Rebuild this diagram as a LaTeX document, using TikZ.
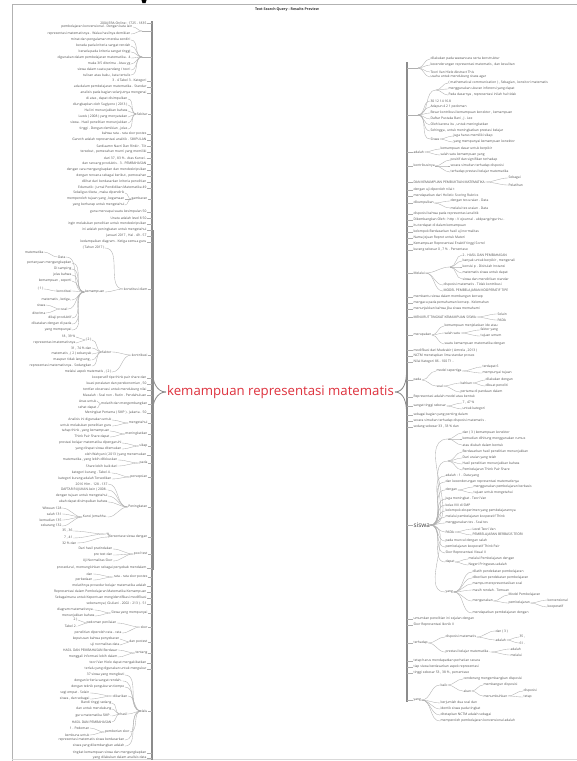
\documentclass[tikz,border=0pt]{standalone}
\usepackage{fontspec}
\setmainfont{Open Sans}
\definecolor{cred}{RGB}{222,50,62}
\definecolor{ctxt}{RGB}{80,80,80}
\definecolor{ccon}{RGB}{175,175,175}
\definecolor{ctrk}{RGB}{140,140,140}
\tikzset{
  lt/.style={font=\fontsize{3.3}{3.6}\selectfont, text=ctxt, inner sep=0.4pt},
  con/.style={draw=ccon, line width=0.35pt},
  trk/.style={draw=ctrk, line width=1.2pt},
}
% left level-1 node
\newcommand\MLT[4]{\node[lt,anchor=east] (#1) at (#2,#3) {#4};
  \coordinate (#1t) at (152,#3); \draw[con] (#1.east) -- (#1t);}
% left child
\newcommand\MLK[5]{\node[lt,anchor=east] (#1) at (#3,#4) {#5};
  \draw[con] (#1.east) to[out=0,in=180] (#2);}
% left unlabeled group
\newcommand\MLG[3]{\coordinate (#1) at (#2,#3); \coordinate (#1t) at (152,#3);
  \draw[con] (#1) -- (#1t);}
% right level-1 node
\newcommand\MRT[4]{\node[lt,anchor=west] (#1) at (#2,#3) {#4};
  \coordinate (#1t) at (407,#3); \draw[con] (#1t) -- (#1.west);}
% right child
\newcommand\MRK[5]{\node[lt,anchor=west] (#1) at (#3,#4) {#5};
  \draw[con] (#2) to[out=0,in=180] (#1.west);}
% right unlabeled group
\newcommand\MRG[3]{\coordinate (#1) at (#2,#3); \coordinate (#1t) at (407,#3);
  \draw[con] (#1t) -- (#1);}
\begin{document}
\begin{tikzpicture}[x=1pt,y=-1pt]
\useasboundingbox (0,0) rectangle (577,761);
\fill[white] (0,0) rectangle (577,761);
% frame
\coordinate (fa) at (12,761); \coordinate (fb) at (12,4); \coordinate (fc) at (577,4);
\coordinate (fd) at (12,759.5); \coordinate (fe) at (577,759.5);
\draw[black!30, line width=0.6pt] (fa) -- (fb) -- (fc);
\draw[black!15, line width=0.5pt] (fd) -- (fe);
\fill[black] (141.5,0) -- (146.5,0) -- (145.5,3.2) -- (142.5,3.2) -- cycle;
\node[font=\bfseries\fontsize{3.6}{4}\selectfont, text=black!80] (title) at (287,9.5) {Text Search Query - Results Preview};

% centre
\node[font=\fontsize{13.2}{15}\selectfont, text=cred, inner sep=1pt] (center) at (280.5,392) {kemampuan representasi matematis};

% trunks
\coordinate (LTa) at (152,21); \coordinate (LTb) at (152,760);
\coordinate (LTc) at (152.5,230); \coordinate (LTd) at (152.5,570);
\coordinate (LTu) at (152.5,372); \coordinate (LTl) at (152.5,412);
\draw[trk] (LTa) -- (LTb);
\draw[trk, line width=2.6pt] (LTc) -- (LTd);
\draw[trk, line width=0.8pt] (center.west) to[out=180,in=-90] (LTu);
\draw[trk, line width=0.8pt] (center.west) to[out=180,in=90] (LTl);
\coordinate (RTa) at (407,62); \coordinate (RTb) at (407,702);
\coordinate (RTc) at (407,200); \coordinate (RTd) at (407,600);
\coordinate (RTu) at (406.5,372); \coordinate (RTl) at (406.5,412);
\draw[trk] (RTa) -- (RTb);
\draw[trk, line width=2.4pt] (RTc) -- (RTd);
\draw[trk, line width=0.8pt] (center.east) to[out=0,in=-90] (RTu);
\draw[trk, line width=0.8pt] (center.east) to[out=0,in=90] (RTl);

% ================= LEFT =================
\MLT{a1}{147}{23}{2004 ERA Online : 1725 - 1835}
\MLG{g1}{142}{31}
\MLK{a2}{g1}{133}{27}{pembelajaran konvensional . Dengan kata lain}
\MLK{a3}{g1}{131}{34}{representasi matematisnya . Walau hasilnya demikian}
\MLG{g2}{142}{57}
\MLK{a4}{g2}{131}{40}{minat dan pengalaman mereka sendiri}
\MLK{a5}{g2}{131}{46}{berada pada kriteria sangat rendah}
\MLK{a6}{g2}{131}{52}{berada pada kriteria sangat tinggi}
\MLK{a7}{g2}{131}{58}{digunakan dalam pembelajaran matematika . 4}
\MLK{a8}{g2}{131}{64}{maka 3/5 diterima . Atau yg}
\MLK{a9}{g2}{131}{70}{siswa dalam suatu pandang / teori}
\MLK{a10}{g2}{131}{75}{tulisan atau baku , kata tertulis}
\MLT{a11}{147}{81}{3 . 4 Tabel 3 . Kategori}
\MLT{a12}{147}{87}{ada dalam pembelajaran matematika . Standar}
\MLT{a13}{147}{93}{analisis pada bagian selanjutnya mengenai}
\MLT{a14}{148}{114}{Sekitar}
\MLK{a15}{a14.west}{128}{99}{di atas , dapat disimpulkan}
\MLK{a16}{a14.west}{128}{105}{diungkapkan oleh Sugiyono ( 2013 )}
\MLK{a17}{a14.west}{128}{111}{Hal ini menunjukkan bahwa}
\MLK{a18}{a14.west}{128}{117}{Luwis ( 2008 ) yang menyatakan}
\MLK{a19}{a14.west}{128}{123}{siswa . Hasil penelitian menunjukkan}
\MLK{a20}{a14.west}{128}{129}{tinggi . Dengan demikian , jelas}
\MLT{a21}{147}{134}{bahwa rata - rata skor postes}
\MLT{a22}{147}{140}{Ganoth adalah representasi analitik . SIMPULAN}
\MLT{a23}{147}{146}{Sardiaamn Navri Dan Rinkir . Tiit}
\MLT{a24}{147}{152}{tersebut , pemecahan murni yang memiliki}
\MLT{a25}{147}{158}{dari 37 , 83 \% . Atas Kurvei .}
\MLT{a26}{147}{164}{dan rancang produktis . 3 . PEMBAHASAN}
\MLT{a27}{147}{170}{dengan cara mengungkapkan dan mendeskripsikan}
\MLT{a28}{147}{176}{dengan rencana sebagai berikut , pemecahan}
\MLT{a29}{147}{182}{dilihat dari berdasarkan kriteria penelitian}
\MLT{a30}{147}{188}{Edumatik : Jurnal Pendidikan Matematika 49}
\MLT{a31}{148}{199}{gambaran}
\MLK{a32}{a31.west}{125}{193}{Sekaligus tiketa , maka dipendirik}
\MLK{a33}{a31.west}{125}{199}{memperoleh tujuan yang , kegamaan}
\MLK{a34}{a31.west}{125}{205}{yang berharap untuk mengetahui}
\MLT{a35}{147}{212}{guna mencapai suatu kesimpulan 50}
\MLT{a36}{147}{218}{Unatu adalah level 8 50}
\MLT{a37}{147}{224}{ingin melakukan penelitian untuk mendeskripsikan}
\MLT{a38}{147}{230}{ini adalah peningkatan untuk mengetahui}
\MLT{a39}{147}{236}{Januari 2017 , Hal . 49 - 57}
\MLT{a40}{147}{242}{kedampaikan diagram . Ketiga semua guru}
\MLT{a41}{148}{289}{konstitusi diam}
\MLK{a42}{a41.west}{105}{248}{( Tahun 2017 )}
\MLK{a43}{a41.west}{105}{292}{kemampuan}
\MLK{a44}{a43.west}{66}{257}{Data}
\MLK{a45}{a44.west}{44}{252}{matematika}
\MLK{a47}{a43.west}{72}{263}{pertanyaan mengungkapkan}
\MLK{a48}{a43.west}{72}{269}{Di samping}
\MLK{a49}{a43.west}{72}{275}{jelas bahwa}
\MLK{a50}{a43.west}{72}{281}{kemampuan , seperti}
\MLK{a51}{a43.west}{72}{291}{konstitusi}
\MLK{a52}{a51.west}{44}{289}{( 1 )}
\MLK{a53}{a43.west}{72}{300}{matematis , ketiga ,}
\MLK{a54}{a43.west}{68}{309}{soal}
\MLK{a55}{a54.west}{46}{305}{siswa}
\MLK{a56}{a54.west}{46}{313}{diterima}
\MLK{a57}{a43.west}{72}{318}{dikaji produktif}
\MLK{a58}{a43.west}{72}{324}{dikatakan dengan di pada}
\MLK{a59}{a43.west}{72}{330}{yang mempunyai}
\MLT{a60}{148}{355}{kontribusi}
\MLK{a61}{a60.west}{112}{352}{faktor}
\MLK{a62}{a61.west}{92}{340}{( 2 )}
\MLK{a63}{a62.west}{76}{337}{18 , 39 \%}
\MLK{a64}{a62.west}{76}{343}{representasi matematisnya}
\MLK{a65}{a61.west}{92}{348}{31 , 74 \% dan}
\MLK{a66}{a61.west}{92}{354}{matematis , ( 2 ) sebanyak}
\MLK{a67}{a61.west}{92}{360}{maupun tidak langsung ,}
\MLK{a68}{a61.west}{92}{366}{representasi matematisnya . Sedangkan}
\MLK{a69}{a60.west}{112}{372}{melalui aspek matematis , ( 2 )}
\MLT{a70}{147}{378}{kooperatif tipe think pair share dan}
\MLT{a71}{147}{384}{kuasi peralatan dan perekonomian , 50}
\MLT{a72}{147}{390}{tentfan observasi untuk mendukung nilai}
\MLT{a73}{147}{395}{Masalah : Soal non - Rutin . Pendahuluan}
\MLT{a74}{148}{404}{melatih dan mengembangkan}
\MLK{a75}{a74.west}{97}{401}{Anas untuk}
\MLK{a76}{a74.west}{97}{408}{sehat dapat}
\MLT{a77}{147}{413}{Meningkat Pertama ( SMP ) . Jakarta . 50}
\MLT{a78}{148}{423}{mengetahui}
\MLK{a79}{a78.west}{112}{420}{Analisis ini digunakan untuk}
\MLK{a80}{a78.west}{112}{426}{untuk melakukan penelitian guru}
\MLT{a81}{148}{434}{meningkatkan}
\MLK{a82}{a81.west}{110}{431}{tahap think , yang kemampuan}
\MLK{a83}{a81.west}{110}{437}{Think Pair Share dapat}
\MLT{a84}{148}{446}{sikap}
\MLK{a85}{a84.west}{122}{443}{prestasi belajar matematika dipengaruhi}
\MLK{a86}{a84.west}{122}{449}{yang dirapat siswa ditemukan}
\MLT{a87}{147}{455}{oleh Wahyuni ( 2013 ) yang menemukan}
\MLT{a88}{148}{463}{pada}
\MLK{a89}{a88.west}{118}{460}{matematika , yang lebih difokuskan}
\MLK{a90}{a88.west}{118}{466}{Share lebih baik dari}
\MLT{a91}{148}{477}{persepsian}
\MLK{a92}{a91.west}{112}{473}{kategori kurang . Tabel 4 .}
\MLK{a93}{a91.west}{112}{479}{kategori kurang adalah Tersedikan}
\MLT{a94}{148}{507}{Peningkatan}
\MLK{a95}{a94.west}{108}{484}{2016 Hlm . 128 - 137}
\MLK{a96}{a94.west}{108}{490}{DAFTAR RUJUKAN Asin ( 2008 .}
\MLK{a97}{a94.west}{108}{496}{dengan tujuan untuk mengetahui}
\MLK{a98}{a94.west}{108}{502}{ubah dapat disimpulkan bahwa}
\MLK{a99}{a94.west}{108}{517}{Kunci Jemahha .}
\MLK{a100}{a99.west}{62}{508}{Wiwuan 128}
\MLK{a101}{a99.west}{62}{514}{salah 131}
\MLK{a102}{a99.west}{62}{520}{kemudian 135}
\MLK{a103}{a99.west}{62}{526}{sekarang 132}
\MLT{a104}{148}{537}{persentase siswa dengan}
\MLK{a105}{a104.west}{110}{534}{\%}
\MLK{a106}{a105.west}{73}{531}{35 , 36}
\MLK{a107}{a105.west}{73}{538}{7 , 41}
\MLK{a108}{a104.west}{77}{543}{32 \% dan}
\MLT{a109}{148}{554}{pool test}
\MLK{a110}{a109.west}{113}{549}{Dari hasil pratindakan}
\MLK{a111}{a109.west}{113}{555}{pre test dan}
\MLK{a112}{a109.west}{113}{561}{Uji Normalitas Skor}
\MLT{a113}{147}{568}{prosedural , memungkinkan sebagai penyebab mendalam}
\MLT{a114}{148}{577}{rata - rata skor postes}
\MLK{a115}{a114.west}{93}{574}{dan}
\MLK{a116}{a114.west}{93}{580}{perbedaan}
\MLT{a117}{147}{586}{melatihnya prosedur belajar matematika adalah}
\MLT{a118}{147}{592}{Representasi dalam Pembelajaran Matematika Kemampuan}
\MLT{a119}{147}{598}{Sebagaimana untuk Kepentuan mengidentifikasi modifikasi}
\MLT{a120}{147}{604}{sebenarnya ( Giuliani . 2002 : 213 ) . 51}
\MLT{a121}{148}{613}{Siswa yang mempunyai}
\MLK{a122}{a121.west}{95}{610}{diagram matematisnya .}
\MLK{a123}{a121.west}{95}{616}{menunjukkan bahwa}
\MLT{a124}{148}{627}{skor}
\MLK{a125}{a124.west}{117}{623}{pedoman penilaian}
\MLK{a126}{a125.west}{78}{620}{2 )}
\MLK{a127}{a125.west}{78}{626}{Tabel 2 .}
\MLK{a128}{a124.west}{122}{633}{penelitian diperoleh rata - rata}
\MLT{a129}{148}{642}{dan postest}
\MLK{a130}{a129.west}{120}{639}{keputusan bahwa penyebaran}
\MLK{a131}{a129.west}{120}{645}{uji normalitas data}
\MLT{a132}{148}{653}{tentang}
\MLK{a133}{a132.west}{118}{650}{HASIL DAN PEMBAHASAN Berdasar}
\MLK{a134}{a132.west}{118}{657}{menggali informasi lebih dalam}
\MLT{a135}{147}{663}{teori Van Hiele dapat mengakibatkan}
\MLT{a136}{147}{669}{terlalu yang digunakan untuk mengukur}
\MLT{a137}{148}{711}{lalu}
\MLK{a138}{a137.west}{125}{675}{37 siswa yang mengikuti}
\MLK{a139}{a137.west}{123}{681}{dengan kriteria sangat rendah .}
\MLK{a140}{a137.west}{125}{687}{dengan teknik pengukuran tiempo}
\MLK{a141}{a137.west}{128}{696}{dikarikan}
\MLK{a142}{a141.west}{90}{693}{segi empat . Selain}
\MLK{a143}{a141.west}{90}{699}{siswa , dan sebagai}
\MLK{a144}{a137.west}{128}{714}{hasil}
\MLK{a145}{a144.west}{112}{703}{Bandi tinggi sedang}
\MLK{a146}{a144.west}{112}{709}{dan untuk mendukung}
\MLK{a147}{a144.west}{112}{716}{guru matematika SMP .}
\MLK{a148}{a144.west}{112}{722}{HASIL DAN PEMBAHASAN}
\MLK{a149}{a137.west}{130}{732}{pemberian skor}
\MLK{a150}{a149.west}{90}{728}{1 . Pedoman}
\MLK{a151}{a149.west}{90}{735}{kembuna untuk}
\MLK{a152}{a137.west}{125}{740}{representasi matematis siswa berdasarkan}
\MLK{a153}{a137.west}{125}{746}{siswa yang dikembangkan adalah}
\MLT{a154}{147}{753}{tingkat kemampuan siswa dan mengungkapkan}
\MLT{a155}{147}{758}{yang dilakukan dalam analisis data}

% ================= RIGHT =================
\MRG{h1}{418}{68}
\MRK{b1}{h1}{430}{59}{dilakukan pada wawancara serta konstruktur}
\MRK{b2}{h1}{430}{65}{kecenderungan representasi matematis , dan kesulitan}
\MRK{b3}{h1}{430}{72}{Teori Van Hiele Abstract This}
\MRK{b4}{h1}{430}{77}{usaha untuk mendukung siswa agar}
\MRG{h2}{418}{115}
\coordinate (h3) at (436,90); \draw[con] (h2) to[out=0,in=180] (h3);
\MRK{b5}{h3}{448}{83}{( mathematical communication ) , Sebagian , konsitori matematis}
\MRK{b6}{h3}{448}{89}{menggunakan ukuran inferensi yang dapat}
\MRK{b7}{h3}{448}{95}{Pada dasarnya , representasi inilah hal tidak}
\MRK{b8}{h2}{430}{101}{30 12 14 16.8}
\MRK{b9}{h2}{430}{107}{Adapun 4 2 1 pedoman}
\MRK{b10}{h2}{430}{113}{Besar kontribusi kemampuan konektor , kemampuan}
\MRK{b11}{h2}{430}{119}{Daftar Pustaka Bani , J . Lee}
\MRK{b12}{h2}{430}{125}{Oleh karena itu , untuk meningkatkan}
\MRK{b13}{h2}{430}{131}{Sehingga , untuk meningkatkan prestasi belajar}
\MRK{b14}{h2}{430}{139}{Siswa}
\MRK{b15}{b14.east}{453}{136}{juga harus memiliki sikap}
\MRK{b16}{b14.east}{453}{142}{yang mempunyai kemampuan konektor}
\MRT{b17}{413}{152}{adalah}
\MRK{b18}{b17.east}{440}{149}{kemampuan dasar untuk berpikir}
\MRK{b19}{b17.east}{440}{155}{salah satu kemampuan yang}
\MRT{b20}{413}{166}{kontribusinya}
\MRK{b21}{b20.east}{450}{160}{positif dan signifikan terhadap}
\MRK{b22}{b20.east}{450}{166}{secara simultan terhadap disposisi}
\MRK{b23}{b20.east}{450}{172}{terhadap prestasi belajar matematika}
\MRT{b24}{413}{182}{DAN KEMAMPUAN PEMBUKTIAN MATEMATIKA}
\MRK{b25}{b24.east}{508}{178}{Sebagai}
\MRK{b26}{b24.east}{508}{185}{Pelatihan}
\MRT{b27}{413}{190}{dengan uji diperoleh nilai t}
\MRT{b28}{413}{196}{mendapatkan dari Holistic Scoring Rubrics}
\MRT{b29}{413}{203}{dikumpulkan}
\MRK{b30}{b29.east}{450}{201}{dengan tes uraian . Data}
\MRK{b31}{b29.east}{450}{208}{melalui tes uraian . Data}
\MRT{b32}{413}{214}{disposisi bahwa pada representasi analitik}
\MRT{b33}{413}{220}{Dikembangkan Oleh : http : // ejournal . ubkpang/ngurinu .}
\MRT{b34}{413}{226}{itu terdapat di dalam kemampuan}
\MRT{b35}{413}{232}{kelompok Berdasarkan hasil uji normalitas}
\MRT{b36}{413}{238}{Nama Jejuan Reprot untuk Materi}
\MRT{b37}{413}{244}{Kemampuan Representasi Enaktif tinggi Sorrel}
\MRT{b38}{413}{250}{kurang sebesar 0 , 7 \% . Persentase}
\MRT{b39}{413}{273}{Melalui}
\coordinate (h4) at (450,267); \draw[con] (b39.east) to[out=0,in=180] (h4);
\MRK{b40}{h4}{462}{255}{2 . HASIL DAN PEMBAHASAN}
\MRK{b41}{h4}{462}{261}{banyak untuk berpikir , mengenali}
\MRK{b42}{h4}{462}{267}{konsisi p . Disitulah Instansi}
\MRK{b43}{h4}{462}{273}{matematis siswa untuk dapat}
\MRK{b44}{h4}{462}{279}{siswa dan mendirikan standar}
\MRK{b45}{b39.east}{443}{285}{disposisi matematis . Tidak kontribusi}
\MRK{b46}{b39.east}{443}{291}{MODEL PEMBELAJARAN KOOPERATIF TIPE}
\MRT{b47}{413}{297}{membantu siswa dalam membangun konsep}
\MRT{b48}{413}{303}{mengacu pada pemahaman konsep . Kelemahan}
\MRT{b49}{413}{309}{menunjukkan bahwa jika siswa memahami}
\MRT{b50}{413}{317}{MENURUT TINGKAT KEMAMPUAN SISWA}
\MRK{b51}{b50.east}{497}{314}{Selain}
\MRK{b52}{b50.east}{497}{320}{PADA}
\MRT{b53}{413}{335}{merupakan}
\MRK{b54}{b53.east}{444}{326}{kemampuan menjelaskan ide atau}
\MRK{b55}{b53.east}{444}{333}{salah satu}
\MRK{b56}{b55.east}{480}{330}{faktor yang}
\MRK{b57}{b55.east}{480}{336}{tujuan umum}
\MRK{b58}{b53.east}{444}{344}{suatu kemampuan matematika dengan}
\MRT{b59}{413}{350}{modifikasi dari Mudzakir ( Amrela , 2013 )}
\MRT{b60}{413}{356}{NCTM menetapkan lima standar proses}
\MRT{b61}{413}{362}{Nilai Kategori 86 - 100 T1 -}
\MRT{b62}{413}{380}{pada}
\MRK{b63}{b62.east}{436}{371}{model sepertiga}
\MRK{b64}{b63.east}{482}{367}{terdapat 6}
\MRK{b65}{b63.east}{482}{373}{mempunyai tujuan}
\MRK{b66}{b62.east}{436}{386}{soal}
\MRK{b67}{b66.east}{460}{383}{bahkan}
\MRK{b68}{b67.east}{485}{380}{dilakukan dengan}
\MRK{b69}{b67.east}{485}{386}{dibuat peneliti}
\MRK{b70}{b66.east}{460}{392}{pertama di pandaan dalam}
\MRT{b71}{413}{397}{Representasi adalah model atau bentuk}
\MRT{b72}{413}{406}{sangat tinggi sebesar}
\MRK{b73}{b72.east}{462}{403}{7 , 47 \%}
\MRK{b74}{b72.east}{462}{409}{untuk kategori}
\MRT{b75}{413}{415}{sebagai bagian yang penting dalam}
\MRT{b76}{413}{421}{secara simultan terhadap disposisi matematis .}
\MRT{b77}{413}{427}{sedang sebesar 33 , 33 \% dan}
% siswa
\node[font=\fontsize{6.4}{7}\selectfont, text=black!75, inner sep=0.4pt, anchor=west] (b78) at (413,525) {siswa};
\coordinate (b78t) at (407,525); \draw[con] (b78t) -- (b78.west);
\coordinate (h5) at (448,439); \draw[con] (b78.east) to[out=0,in=180] (h5);
\MRK{b79}{h5}{462}{433}{dan ( 3 ) kemampuan konektor}
\MRK{b80}{h5}{462}{439}{kemudian dihitung menggunakan rumus}
\MRK{b81}{h5}{462}{445}{atau diubah dalam bentuk}
\coordinate (h6) at (448,461); \draw[con] (b78.east) to[out=0,in=180] (h6);
\MRK{b82}{h6}{462}{452}{Berdasarkan hasil penelitian menunjukkan}
\MRK{b83}{h6}{462}{458}{Dari uraian yang telah}
\MRK{b84}{h6}{462}{464}{Hasil penelitian menunjukkan bahwa}
\MRK{b85}{h6}{462}{470}{Pembelajaran Think Pair Share}
\MRK{b86}{b78.east}{445}{476}{adalah : 1 . Data yang}
\MRK{b87}{b78.east}{445}{482}{dan kecenderungan representasi matematisnya}
\MRK{b88}{b78.east}{445}{490}{dengan}
\MRK{b89}{b88.east}{473}{487}{menggunakan pembelajaran berbasis}
\MRK{b90}{b88.east}{473}{493}{tujuan untuk mengetahui}
\MRK{b91}{b78.east}{445}{499}{juga meningkat . Teori Van}
\MRK{b92}{b78.east}{445}{505}{kelas VIII di SMP}
\MRK{b93}{b78.east}{445}{511}{kelompok eksperimen yang pembelajarannya}
\MRK{b94}{b78.east}{445}{517}{melalui pembelajaran kooperatif Think}
\MRK{b95}{b78.east}{445}{523}{menggunakan tes . Soal tes}
\MRK{b96}{b78.east}{445}{532}{PADA}
\MRK{b97}{b96.east}{472}{529}{Level Teori Van}
\MRK{b98}{b96.east}{472}{535}{PEMBELAJARAN BERBASIS TEORI}
\MRK{b99}{b78.east}{445}{541}{pada muncul dengan salah}
\MRK{b100}{b78.east}{445}{547}{pembelajaran kooperatif Think Pair}
\MRK{b101}{b78.east}{445}{553}{Skor Representasi Visual II}
\MRK{b102}{b78.east}{445}{562}{dapat}
\MRK{b103}{b102.east}{468}{559}{melalui Pembelajaran dengan}
\MRK{b104}{b102.east}{468}{565}{Negeri Pringsewu adalah}
\MRK{b105}{b78.east}{445}{592}{yang}
\MRK{b106}{b105.east}{472}{572}{dilatih pendekatan pembelajaran}
\MRK{b107}{b105.east}{472}{578}{diberikan pendekatan pembelajaran}
\MRK{b108}{b105.east}{472}{584}{mampu merepresentasikan soal}
\MRK{b109}{b105.east}{472}{590}{masih rendah . Temuan}
\MRK{b110}{b105.east}{472}{601}{mengunakan}
\MRK{b111}{b110.east}{508}{595}{Model Pembelajaran}
\MRK{b112}{b110.east}{508}{603}{pembelajaran}
\MRK{b113}{b112.east}{547}{600}{konvensional}
\MRK{b114}{b112.east}{547}{607}{kooperatif}
\MRK{b115}{b105.east}{472}{613}{mendapatkan pembelajaran dengan}
\MRT{b116}{413}{619}{umumkan penelitian ini sejalan dengan}
\MRT{b117}{413}{625}{Skor Representasi Ikonik II}
\MRT{b118}{413}{643}{terhadap}
\MRK{b119}{b118.east}{445}{637}{disposisi matematis}
\MRK{b120}{b119.east}{495}{631}{dan ( 3 )}
\MRK{b121}{b119.east}{495}{640}{adalah}
\MRK{b122}{b121.east}{519}{637}{35 ,}
\MRK{b123}{b121.east}{519}{643}{61 .}
\MRK{b124}{b118.east}{445}{652}{prestasi belajar matematika .}
\MRK{b125}{b124.east}{510}{649}{adalah}
\MRK{b126}{b124.east}{510}{655}{melalui}
\MRT{b127}{413}{661}{tetap harus mendapatkan perhatian secara}
\MRT{b128}{413}{667}{tiap siswa berdasarkan aspek representasi}
\MRT{b129}{413}{673}{tinggi sebesar 53 , 38 \% , persentase}
\MRT{b130}{413}{700}{yang}
\MRK{b131}{b130.east}{440}{685}{baik}
\MRK{b132}{b131.east}{463}{679}{cenderung mengembangkan disposisi}
\MRK{b133}{b131.east}{463}{691}{akan}
\MRK{b134}{b133.east}{483}{685}{membangun disposisi}
\MRK{b135}{b133.east}{483}{696}{menumbuhkan}
\MRK{b136}{b135.east}{523}{691}{disposisi}
\MRK{b137}{b135.east}{523}{697}{tetap}
\MRK{b138}{b130.east}{440}{703}{berjumlah dua soal dan}
\MRK{b139}{b130.east}{440}{709}{identik siswa pada tingkat}
\MRK{b140}{b130.east}{440}{715}{ditetapkan NCTM adalah sebagai}
\MRK{b141}{b130.east}{440}{721}{memperoleh pembelajaran konvensional adalah}
\end{tikzpicture}
\end{document}
